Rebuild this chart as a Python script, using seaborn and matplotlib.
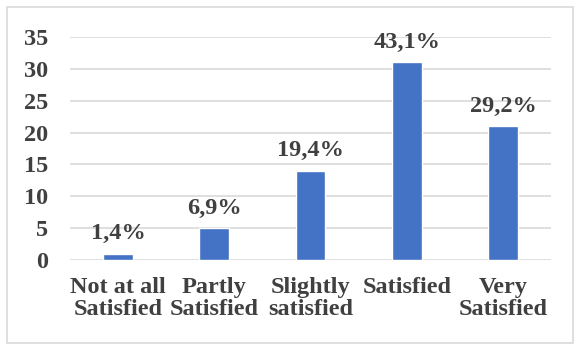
import matplotlib
matplotlib.use("Agg")
import matplotlib.pyplot as plt
import matplotlib.patches as mpatches
import seaborn as sns
import pandas as pd

categories = ["Not at all\nSatisfied", "Partly\nSatisfied", "Slightly\nsatisfied", "Satisfied", "Very\nSatisfied"]
counts = [1, 5, 14, 31, 21]
pct_labels = ["1,4%", "6,9%", "19,4%", "43,1%", "29,2%"]
yticks = [0, 5, 10, 15, 20, 25, 30, 35]

sns.set_style("white")
plt.rcParams["font.family"] = ["Liberation Serif", "DejaVu Serif"]
plt.rcParams["font.weight"] = "bold"

df = pd.DataFrame({"cat": categories, "n": counts})
text_col = "#404040"
fs = 17.5

fig = plt.figure(figsize=(5.74, 3.45), dpi=100)
ax = fig.add_axes([0.122, 0.246, 0.838, 0.647])

sns.barplot(data=df, x="cat", y="n", color="#4472C4", width=0.31,
            saturation=1, ax=ax, zorder=3)

ax.set_ylim(0, 35)
ax.set_yticks(yticks)
ax.yaxis.grid(True, color="#D9D9D9", linewidth=1.2, zorder=0)
ax.set_axisbelow(True)
for s in ax.spines.values():
    s.set_visible(False)
ax.set_xlabel("")
ax.set_ylabel("")
ax.tick_params(axis="both", length=0, labelsize=fs, labelcolor=text_col)
ax.tick_params(axis="x", pad=12)
ax.tick_params(axis="y", pad=16)
for lab in ax.get_xticklabels() + ax.get_yticklabels():
    lab.set_fontweight("bold")
    lab.set_linespacing(1.1)

for i, (v, t) in enumerate(zip(counts, pct_labels)):
    ax.annotate(t, (i, v), xytext=(0, 7), textcoords="offset points",
                ha="center", va="bottom", fontsize=fs, fontweight="bold",
                color=text_col)

fig.patches.append(mpatches.Rectangle((7 / 574, 2 / 345), 566 / 574, 336 / 345,
                                      transform=fig.transFigure, fill=False,
                                      edgecolor="#D9D9D9", linewidth=1.2))

fig.savefig("out.png", dpi=100)
